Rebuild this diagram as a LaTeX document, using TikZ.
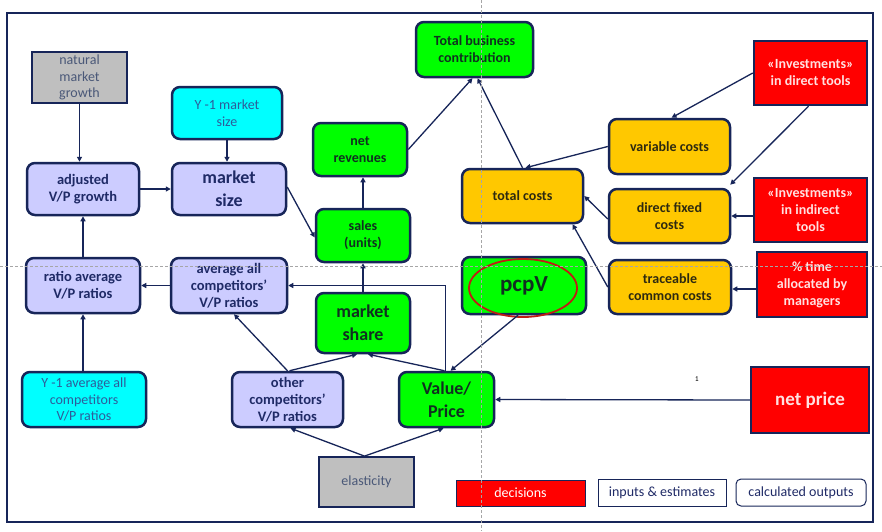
\documentclass[tikz,border=0pt]{standalone}
\usepackage{fontspec}
\setmainfont{Carlito}
\usetikzlibrary{arrows.meta}
\definecolor{navy}{HTML}{172559}
\definecolor{lav}{HTML}{CCCCFF}
\definecolor{cyanb}{HTML}{00FFFF}
\definecolor{grn}{HTML}{00FF00}
\definecolor{ylw}{HTML}{FFC800}
\definecolor{redb}{HTML}{FF0000}
\definecolor{grayb}{HTML}{BFBFBF}
\definecolor{lavtxt}{HTML}{1F2A66}
\definecolor{grntxt}{HTML}{103020}
\definecolor{ylwtxt}{HTML}{2E2A10}
\definecolor{cyantxt}{HTML}{2E5C9A}
\definecolor{graytxt}{HTML}{4A5878}
\definecolor{redtxt}{HTML}{FFE0E0}
\begin{document}
\begin{tikzpicture}[x=1pt,y=-1pt,
  base/.style={draw=navy,line width=2.5pt,align=center,inner sep=1pt,font=\fontsize{14}{16.5}\selectfont},
  rbox/.style={base,rounded corners=8pt},
  lavbox/.style={rbox,fill=lav,text=lavtxt,font=\bfseries\fontsize{14.5}{17}\selectfont},
  cyanbox/.style={rbox,fill=cyanb,text=cyantxt},
  graybox/.style={base,line width=1.8pt,fill=grayb,text=graytxt},
  grnbox/.style={rbox,fill=grn,text=grntxt,font=\bfseries\fontsize{14}{17}\selectfont},
  ylwbox/.style={rbox,fill=ylw,text=ylwtxt,font=\bfseries\fontsize{14}{17}\selectfont},
  redbox/.style={base,fill=redb,text=redtxt,font=\bfseries\fontsize{14}{17}\selectfont},
  arr/.style={draw=navy,line width=1.3pt,-{Triangle[length=5pt,width=5pt]}},
  sz/.style 2 args={minimum width=#1pt,minimum height=#2pt}
]
\useasboundingbox (0,0) rectangle (882,531);
\fill[white] (0,0) rectangle (882,531);
\draw[navy,line width=2.8pt] (7,13) rectangle (873,522);

% nodes
\node[graybox,sz={95}{51}] (natmg) at (79.5,77.5) {natural\\market\\growth};
\node[cyanbox,sz={110}{52}] (y1ms) at (227,113) {Y -1 market\\size};
\node[lavbox,sz={112}{52}] (adj) at (83,189) {adjusted\\V/P growth};
\node[lavbox,sz={114}{52},font=\bfseries\fontsize{18}{23}\selectfont] (msize) at (229,189) {market\\size};
\node[lavbox,sz={114}{55}] (ratio) at (83,285.5) {ratio average\\V/P ratios};
\node[lavbox,sz={116}{55}] (avgall) at (229,285.5) {average all\\competitors’\\V/P ratios};
\node[cyanbox,sz={124}{55}] (y1avg) at (84,399.5) {Y -1 average all\\competitors\\V/P ratios};
\node[lavbox,sz={111}{55}] (other) at (287.5,399.5) {other\\competitors’\\V/P ratios};
\node[graybox,sz={95}{50}] (elast) at (366.5,482) {elasticity};
\node[grnbox,sz={95}{55},font=\bfseries\fontsize{18}{23}\selectfont] (vp) at (446.5,399.5) {Value/\\Price};
\node[grnbox,sz={94}{60},font=\bfseries\fontsize{18}{23}\selectfont] (mshare) at (363,323) {market\\share};
\node[grnbox,sz={124}{57},font=\bfseries\fontsize{23}{27}\selectfont] (pcpv) at (524,285.5) {pcpV};
\draw[draw={rgb,255:red,190;green,30;blue,20},line width=1.8pt] (523,288) ellipse [x radius=54pt,y radius=29pt];
\node[grnbox,sz={94}{53}] (sales) at (363,235.5) {sales\\(units)};
\node[grnbox,sz={94}{53}] (netrev) at (360,149.5) {net\\revenues};
\node[grnbox,sz={117}{55}] (tbc) at (474.5,49.5) {Total business\\contribution};
\node[ylwbox,sz={121}{54}] (tcost) at (522.5,196) {total costs};
\node[ylwbox,sz={121}{55}] (varc) at (669.5,146.5) {variable costs};
\node[ylwbox,sz={121}{54}] (dfix) at (669.5,216) {direct fixed\\costs};
\node[ylwbox,sz={122}{54}] (trace) at (670,287) {traceable\\common costs};
\node[redbox,sz={113}{64}] (invd) at (810.5,73) {«Investments»\\in direct tools};
\node[redbox,sz={113}{64}] (invi) at (810.5,210) {«Investments»\\in indirect\\tools};
\node[redbox,sz={110}{65}] (time) at (812,284.5) {\% time\\allocated by\\managers};
\node[redbox,sz={118}{66},font=\bfseries\fontsize{19}{23}\selectfont] (netp) at (810,400) {net price};
\node[font=\ttfamily\fontsize{8}{9}\selectfont] (one) at (697,379) {1};

% legend
\node[base,line width=1pt,fill=redb,text=white,sz={129}{26}] (dec) at (520.5,493) {decisions};
\node[base,line width=1pt,fill=white,text=lavtxt,sz={128}{27}] (inp) at (662,492.5) {inputs \& estimates};
\node[base,line width=1pt,rounded corners=5pt,fill=white,text=lavtxt,sz={130}{27}] (calc) at (801,492.5) {calculated outputs};

% connectors
\draw[arr] (natmg.south) -- (natmg.south |- adj.north);
\draw[arr] (y1ms.south) -- (y1ms.south |- msize.north);
\draw[arr] (adj.east) -- (msize.west);
\draw[arr] (ratio.north) -- (adj.south);
\draw[arr] (ratio.south |- y1avg.north) -- (ratio.south);
\draw[arr] (avgall.west) -- (ratio.east);
\draw[arr] (other.north) -- ([xshift=5pt]avgall.south);
\draw[arr] ([xshift=2pt]other.north) -- ([xshift=-6pt]mshare.south);
\draw[arr] ([xshift=-2pt]vp.north) -- ([xshift=5pt]mshare.south);
\draw[arr] ([xshift=-1pt]vp.north) |- (avgall.east);
\draw[arr] ([xshift=-6pt]pcpv.south) -- ([xshift=4pt]vp.north);
\draw[arr] (mshare.north) -- (sales.south);
\draw[arr] (sales.north) -- (sales.north |- netrev.south);
\draw[arr] ([yshift=2pt]msize.east) -- ([yshift=-2pt]sales.west);
\draw[arr] (netrev.east) -- ([xshift=-2pt]tbc.south);
\draw[arr] (tcost.north) -- ([xshift=3pt]tbc.south);
\draw[arr] (varc.west) -- ([xshift=3pt]tcost.north);
\draw[arr] ([yshift=-3pt]dfix.west) -- (tcost.east);
\draw[arr] (trace.west) -- ([xshift=50pt]tcost.south);
\draw[arr] (invd.west) -- ([xshift=2pt]varc.north);
\draw[arr] ([xshift=-2pt]invd.south) -- ([yshift=3pt,xshift=-1pt]dfix.north east);
\draw[arr] (invi.west |- dfix.east) -- (dfix.east);
\draw[arr] ([yshift=-2pt]time.west |- trace.east) -- ([yshift=-2pt]trace.east);
\draw[arr] (netp.west) -- (vp.east);
\draw[arr] ([xshift=-2pt]elast.north) -- ([xshift=3pt]other.south);
\draw[arr] ([xshift=-2pt]elast.north) -- ([xshift=-3pt]vp.south);

% guide lines
\draw[gray!70,line width=0.5pt,dash pattern=on 3pt off 2pt] (481.5,0) -- (481.5,531);
\draw[gray!70,line width=0.5pt,dash pattern=on 3pt off 2pt] (0,266) -- (882,266);
\end{tikzpicture}
\end{document}
